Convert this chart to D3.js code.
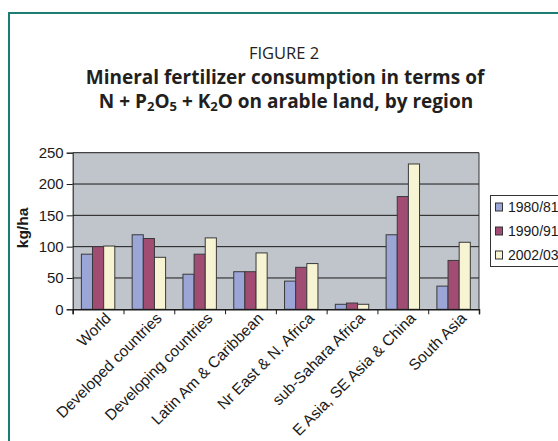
<!DOCTYPE html>
<html>
<head>
<meta charset="utf-8">
<script src="https://cdn.jsdelivr.net/npm/d3@7/dist/d3.min.js"></script>
<style>
  html, body { margin: 0; padding: 0; background: #ffffff; }
  svg { display: block; }
</style>
</head>
<body>
<svg id="chart" width="558" height="441"></svg>
<script>
const categories = ["World", "Developed countries", "Developing countries", "Latin Am & Caribbean",
  "Nr East & N. Africa", "sub-Sahara Africa", "E Asia, SE Asia & China", "South Asia"];
const seriesNames = ["1980/81", "1990/91", "2002/03"];
const values1980 = [88, 119, 56, 60, 45, 8, 119, 37];
const values1990 = [100, 113, 88, 60, 67, 10, 180, 78];
const values2002 = [101, 83, 114, 90, 73, 8, 232, 107];
const yTicks = [0, 50, 100, 150, 200, 250];
const colors = ["#9ba5d6", "#a14d73", "#f6f4d2"];

const seriesValues = [values1980, values1990, values2002];
const svg = d3.select("#chart");
const AX = "'Liberation Sans', Arial, sans-serif";

// frame
svg.append("path")
  .attr("d", "M9,441 L9,13 L560,13")
  .attr("fill", "none").attr("stroke", "#1c7d72").attr("stroke-width", 2);

// title
const title = svg.append("g").attr("font-family", "'Open Sans', sans-serif").attr("fill", "#231f20").attr("text-anchor", "middle");
title.append("text").attr("x", 284).attr("y", 59).attr("font-size", 16.5).text("FIGURE 2");
title.append("text").attr("x", 285).attr("y", 83.5).attr("font-size", 19).attr("font-weight", "bold")
  .text("Mineral fertilizer consumption in terms of");
const t3 = title.append("text").attr("x", 286).attr("y", 108).attr("font-size", 19).attr("font-weight", "bold");
const parts = [["N + P", 0], ["2", 1], ["O", 0], ["5", 1], [" + K", 0], ["2", 1], ["O on arable land, by region", 0]];
parts.forEach(([s, sub]) => {
  const ts = t3.append("tspan").text(s);
  if (sub) ts.attr("font-size", 13).attr("baseline-shift", "-3");
});

// plot area
const L = 72.7, R = 479, T = 152.7, B = 309.3;
const y = d3.scaleLinear().domain([0, 250]).range([B, T]);
const x = d3.scaleBand().domain(categories).range([L, R]).padding(0);
const xs = d3.scaleBand().domain(seriesNames).range([0, x.bandwidth()]).paddingInner(0).paddingOuter(0.78);
const xi = d3.scaleLinear().domain([0, categories.length]).range([L, R]);

svg.append("rect").attr("x", L).attr("y", T).attr("width", R - L).attr("height", B - T)
  .attr("fill", "#c0c4cb");

// gridlines
svg.append("g").selectAll("line").data(yTicks.filter(d => d > 0)).join("line")
  .attr("x1", L).attr("x2", R).attr("y1", d => y(d)).attr("y2", d => y(d))
  .attr("stroke", "#1a1a1a").attr("stroke-width", 1);

// bars
seriesNames.forEach((s, si) => {
  svg.append("g").selectAll("rect").data(categories).join("rect")
    .attr("x", c => x(c) + xs(s))
    .attr("width", xs.bandwidth())
    .attr("y", (c, i) => y(seriesValues[si][i]))
    .attr("height", (c, i) => B - y(seriesValues[si][i]))
    .attr("fill", colors[si])
    .attr("stroke", "#3a3a3a").attr("stroke-width", 1);
});

// plot border (right)
svg.append("line").attr("x1", R).attr("x2", R).attr("y1", T).attr("y2", B).attr("stroke", "#333").attr("stroke-width", 1);

// y axis
const yAxis = svg.append("g").attr("transform", `translate(${L},0)`)
  .call(d3.axisLeft(y).tickValues(yTicks).tickSize(6).tickPadding(3));
yAxis.select(".domain").attr("stroke", "#1a1a1a");
yAxis.selectAll(".tick line").attr("stroke", "#1a1a1a");
yAxis.selectAll("text").attr("font-family", AX).attr("font-size", 15).attr("fill", "#1a1a1a");

// x axis
const xAxis = svg.append("g").attr("transform", `translate(0,${B})`)
  .call(d3.axisBottom(xi).tickValues(d3.range(categories.length + 1)).tickSize(5).tickFormat(""));
xAxis.select(".domain").attr("stroke", "#1a1a1a").attr("stroke-width", 1.5);
xAxis.selectAll(".tick line").attr("stroke", "#1a1a1a");

// x labels
svg.append("g").selectAll("text").data(categories).join("text")
  .attr("transform", c => `translate(${x(c) + x.bandwidth() / 2 + 10},${B + 6}) rotate(-45)`)
  .attr("text-anchor", "end").attr("dy", "0.35em")
  .attr("font-family", AX).attr("font-size", 15.5).attr("fill", "#1a1a1a")
  .text(c => c);

// y label
svg.append("text").attr("transform", "translate(23,228) rotate(-90)")
  .attr("text-anchor", "middle").attr("dy", "0.35em")
  .attr("font-family", AX).attr("font-size", 15.5).attr("font-weight", "bold").attr("fill", "#1a1a1a")
  .text("kg/ha");

// legend
const lg = svg.append("g");
lg.append("rect").attr("x", 490.5).attr("y", 195.5).attr("width", 80).attr("height", 71)
  .attr("fill", "#fff").attr("stroke", "#333").attr("stroke-width", 1);
const ly = d3.scalePoint().domain(seriesNames).range([207, 255]);
seriesNames.forEach((s, si) => {
  lg.append("rect").attr("x", 495.5).attr("y", ly(s) - 4).attr("width", 7).attr("height", 8)
    .attr("fill", colors[si]).attr("stroke", "#333").attr("stroke-width", 1);
  lg.append("text").attr("x", 508).attr("y", ly(s)).attr("dy", "0.35em")
    .attr("font-family", AX).attr("font-size", 14).attr("fill", "#1a1a1a")
    .text(s);
});
</script>
</body>
</html>
